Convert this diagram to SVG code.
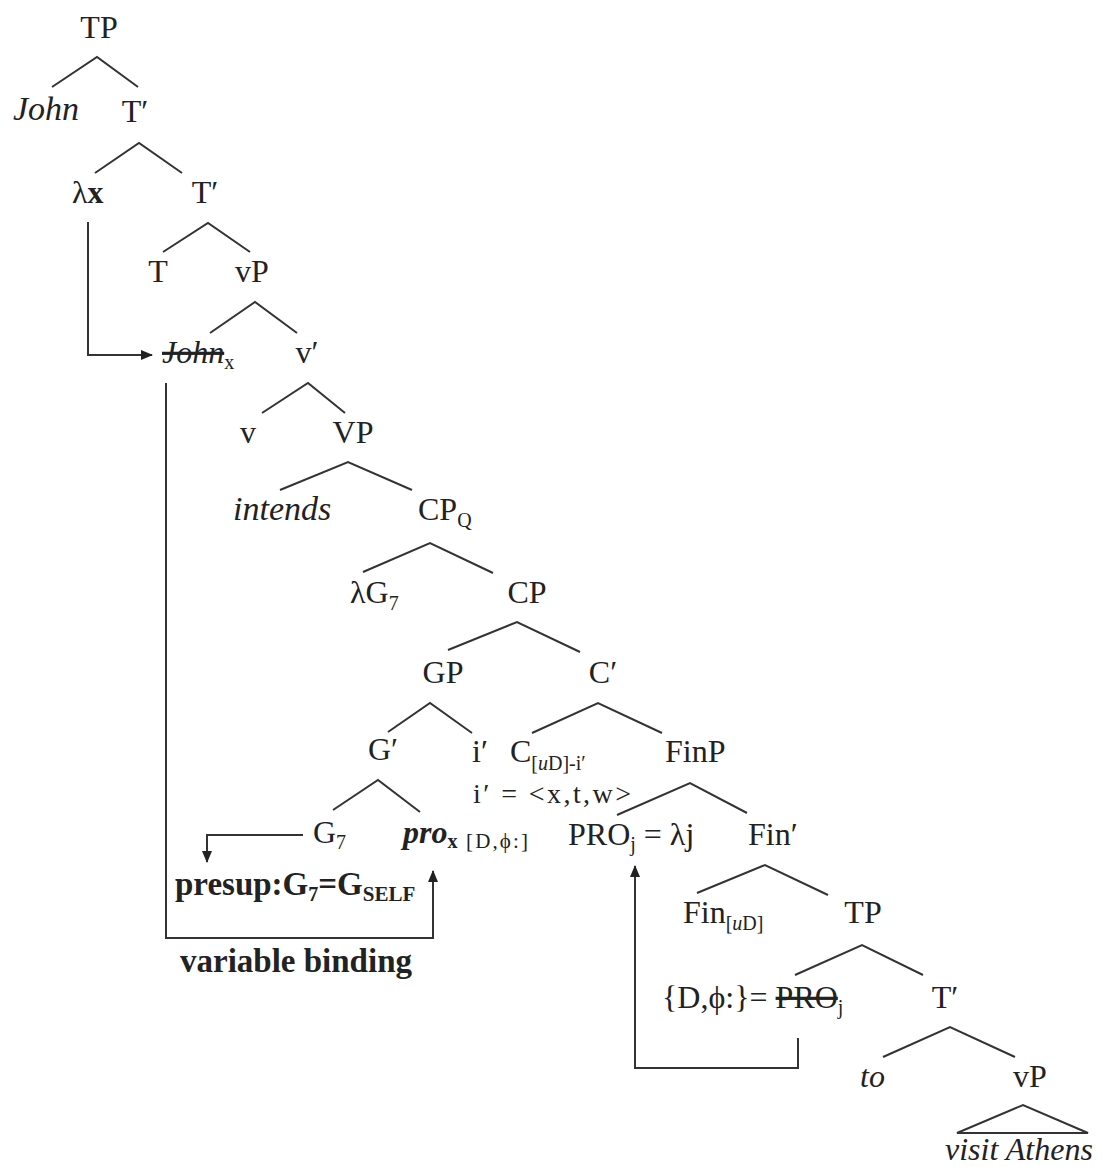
<svg xmlns="http://www.w3.org/2000/svg" width="1103" height="1167" viewBox="0 0 1103 1167">
<style>
.t{font-family:"Liberation Serif","Times New Roman",serif;font-size:32px;fill:#222}
.i{font-style:italic}
.b{font-weight:bold}
.m{text-anchor:middle}
.s{font-size:20px}
.e{stroke:#333;stroke-width:2;fill:none;stroke-linejoin:miter}
.a{stroke:#333;stroke-width:2;fill:none}
</style>
<defs>
<marker id="ah" markerUnits="userSpaceOnUse" markerWidth="12" markerHeight="10" refX="11" refY="5" orient="auto">
<path d="M0,0 L12,5 L0,10 z" fill="#222"/>
</marker>
</defs>
<rect width="1103" height="1167" fill="#fff"/>
<g id="connectors">
<polyline class="e" points="52,87 97,57 138,87"/>
<polyline class="e" points="95,173 139,143 182,173"/>
<polyline class="e" points="163,252 208,223 250,252"/>
<polyline class="e" points="210,333 255,302 297,333"/>
<polyline class="e" points="262,413 308,383 345,413"/>
<polyline class="e" points="280,490 348,462 412,490"/>
<polyline class="e" points="363,572 430,543 493,573"/>
<polyline class="e" points="448,650 517,622 580,652"/>
<polyline class="e" points="388,732 430,703 472,733"/>
<polyline class="e" points="532,733 598,703 662,733"/>
<polyline class="e" points="333,810 378,780 420,812"/>
<polyline class="e" points="617,815 690,783 747,813"/>
<polyline class="e" points="697,893 765,865 828,895"/>
<polyline class="e" points="795,975 862,945 923,975"/>
<polyline class="e" points="883,1057 950,1027 1015,1057"/>
<polygon class="e" points="957,1133 1023,1105 1088,1133"/>
<path class="a" d="M88,222 V355 H152" marker-end="url(#ah)"/>
<path class="a" d="M303,835 H207 V862" marker-end="url(#ah)"/>
<path class="a" d="M166,383 V938 H433 V871" marker-end="url(#ah)"/>
<path class="a" d="M798,1038 V1068 H635 V866" marker-end="url(#ah)"/>
</g>
<g id="n_TP"><text class="t m" x="99" y="38">TP</text></g>
<g id="n_John"><text class="t i" x="13" y="120" style="font-size:34px">John</text></g>
<g id="n_Tbar1"><text class="t m" x="135" y="122">T′</text></g>
<g id="n_lambdax"><text class="t" x="72" y="203">λ<tspan class="b">x</tspan></text></g>
<g id="n_Tbar2"><text class="t m" x="205" y="203">T′</text></g>
<g id="n_T"><text class="t m" x="158" y="282">T</text></g>
<g id="n_vP"><text class="t m" x="252" y="282">vP</text></g>
<g id="n_Johnx"><text class="t" x="162" y="363"><tspan class="i" text-decoration="line-through">John</tspan><tspan class="s" dy="6">x</tspan></text></g>
<g id="n_vbar"><text class="t m" x="307" y="363">v′</text></g>
<g id="n_v"><text class="t m" x="248" y="443">v</text></g>
<g id="n_VP"><text class="t m" x="353" y="443">VP</text></g>
<g id="n_intends"><text class="t i" x="233" y="520" style="font-size:34px">intends</text></g>
<g id="n_CPQ"><text class="t" x="418" y="520">CP<tspan class="s" dy="7">Q</tspan></text></g>
<g id="n_lambdaG7"><text class="t" x="350" y="603">λG<tspan class="s" dy="7">7</tspan></text></g>
<g id="n_CP"><text class="t m" x="527" y="603">CP</text></g>
<g id="n_GP"><text class="t m" x="443" y="683">GP</text></g>
<g id="n_Cbar"><text class="t m" x="603" y="683">C′</text></g>
<g id="n_Gbar"><text class="t m" x="383" y="760">G′</text></g>
<g id="n_iprime"><text class="t" x="472" y="762">i′</text></g>
<g id="n_C"><text class="t" x="510" y="762">C<tspan class="s" dy="8">[<tspan class="i">u</tspan>D]-i′</tspan></text></g>
<g id="n_FinP"><text class="t" x="665" y="762">FinP</text></g>
<g id="n_ieq"><text class="t" x="473" y="803" style="font-size:28px" textLength="158" lengthAdjust="spacing">i′ = &lt;x,t,w&gt;</text></g>
<g id="n_G7"><text class="t" x="313" y="843">G<tspan class="s" dy="6">7</tspan></text></g>
<g id="n_prox"><text class="t" x="403" y="843"><tspan class="b i">pro</tspan><tspan class="b s" dy="5">x</tspan></text><text class="t" x="466" y="848" style="font-size:21px" textLength="62" lengthAdjust="spacing">[D,ϕ:]</text></g>
<g id="n_presup"><text class="t b" x="175" y="895" style="font-size:33px">presup:G<tspan class="s" dy="6">7</tspan><tspan dy="-6">=G</tspan><tspan class="s" dy="6" style="font-size:21px">SELF</tspan></text></g>
<g id="n_PROj"><text class="t" x="568" y="845">PRO<tspan class="s" dy="6">j</tspan><tspan dy="-6"> = λj</tspan></text></g>
<g id="n_Finbar"><text class="t" x="748" y="845">Fin′</text></g>
<g id="n_FinuD"><text class="t" x="683" y="923">Fin<tspan class="s" dy="7">[<tspan class="i">u</tspan>D]</tspan></text></g>
<g id="n_TP2"><text class="t m" x="863" y="923">TP</text></g>
<g id="n_DphiPRO"><text class="t" x="662" y="1008">{D,ϕ:}= <tspan text-decoration="line-through">PRO</tspan><tspan class="s" dy="6">j</tspan></text></g>
<g id="n_Tbar3"><text class="t m" x="945" y="1008">T′</text></g>
<g id="n_to"><text class="t i" x="860" y="1087">to</text></g>
<g id="n_vP2"><text class="t m" x="1030" y="1087">vP</text></g>
<g id="n_visit"><text class="t i" x="945" y="1160" style="font-size:32px">visit Athens</text></g>
<g id="n_varbind"><text class="t b" x="180" y="972" style="font-size:33px">variable binding</text></g>
</svg>
